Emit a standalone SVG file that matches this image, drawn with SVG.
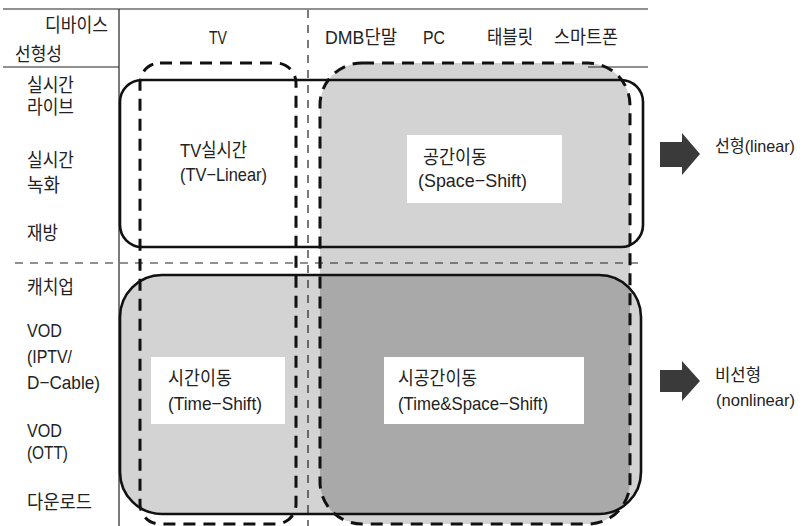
<svg xmlns="http://www.w3.org/2000/svg" width="803" height="526" viewBox="0 0 803 526">
<style>
text{font-family:"Liberation Sans","Noto Sans CJK KR",sans-serif;font-size:19px;fill:#222;}
text.side{font-size:16.5px;}
.thin{stroke:#222;stroke-width:1.2;fill:none;}
.tdash{stroke:#222;stroke-width:1.2;fill:none;stroke-dasharray:8 7;}
.solid{stroke:#111;stroke-width:2.6;fill:none;}
.dash{stroke:#111;stroke-width:3;fill:none;stroke-dasharray:12 8;}
.lbox{fill:#fff;}
.arrow{fill:#3a3a3a;}
</style>
<defs>
<clipPath id="spaceClip"><rect x="320" y="63" width="310" height="461" rx="42"/></clipPath>
</defs>
<rect width="803" height="526" fill="#fff"/>

<g id="fills">
<rect x="120" y="80" width="523" height="167" rx="22" fill="#fff"/>
<rect x="120" y="275" width="521" height="239" rx="42" fill="#d3d3d3"/>
<rect x="320" y="63" width="310" height="461" rx="42" fill="#d3d3d3"/>
<rect x="120" y="275" width="521" height="239" rx="42" fill="#a9a9a9" clip-path="url(#spaceClip)"/>
</g>

<g id="table">
<line class="thin" x1="3" y1="9" x2="648" y2="9"/>
<line class="thin" x1="3" y1="67" x2="119" y2="67"/>
<line class="thin" x1="588" y1="67" x2="648" y2="67"/>
<line class="thin" x1="119" y1="9" x2="119" y2="526"/>
<line class="tdash" x1="308" y1="10" x2="308" y2="526"/>
<line class="tdash" x1="15" y1="263" x2="641" y2="263" stroke-dasharray="9 7"/>
<text x="108" y="32" text-anchor="end" textLength="63" lengthAdjust="spacingAndGlyphs">디바이스</text>
<text x="15" y="61" textLength="47" lengthAdjust="spacingAndGlyphs">선형성</text>
<text x="209" y="44" textLength="18" lengthAdjust="spacingAndGlyphs">TV</text>
<text x="325" y="44" textLength="72" lengthAdjust="spacingAndGlyphs">DMB단말</text>
<text x="423" y="44" textLength="22" lengthAdjust="spacingAndGlyphs">PC</text>
<text x="487" y="44" textLength="46" lengthAdjust="spacingAndGlyphs">태블릿</text>
<text x="554" y="44" textLength="64" lengthAdjust="spacingAndGlyphs">스마트폰</text>
<text x="27" y="92" textLength="47" lengthAdjust="spacingAndGlyphs">실시간</text>
<text x="27" y="114" textLength="47" lengthAdjust="spacingAndGlyphs">라이브</text>
<text x="27" y="167" textLength="47" lengthAdjust="spacingAndGlyphs">실시간</text>
<text x="27" y="192" textLength="33" lengthAdjust="spacingAndGlyphs">녹화</text>
<text x="27" y="240" textLength="31" lengthAdjust="spacingAndGlyphs">재방</text>
<text x="27" y="294" textLength="47" lengthAdjust="spacingAndGlyphs">캐치업</text>
<text x="27" y="337" textLength="35" lengthAdjust="spacingAndGlyphs">VOD</text>
<text x="27" y="363" textLength="45" lengthAdjust="spacingAndGlyphs">(IPTV/</text>
<text x="27" y="389" textLength="73" lengthAdjust="spacingAndGlyphs">D−Cable)</text>
<text x="27" y="437" textLength="35" lengthAdjust="spacingAndGlyphs">VOD</text>
<text x="27" y="459" textLength="41" lengthAdjust="spacingAndGlyphs">(OTT)</text>
<text x="27" y="509" textLength="65" lengthAdjust="spacingAndGlyphs">다운로드</text>
</g>

<g id="tv-linear">
<rect class="solid" x="120" y="80" width="523" height="167" rx="22"/>
</g>

<g id="nonlinear">
<rect class="solid" x="120" y="275" width="521" height="239" rx="42"/>
</g>

<g id="time-column">
<rect class="dash" x="140" y="63" width="156" height="461" rx="20"/>
</g>

<g id="space-column">
<rect class="dash" x="320" y="63" width="310" height="461" rx="42"/>
</g>

<g id="label-tv-linear">
<text x="180" y="157" textLength="67" lengthAdjust="spacingAndGlyphs">TV실시간</text>
<text x="180" y="181" textLength="87" lengthAdjust="spacingAndGlyphs">(TV−Linear)</text>
</g>

<g id="label-space-shift">
<rect class="lbox" x="407" y="135" width="155" height="68"/>
<text x="423" y="164" textLength="64" lengthAdjust="spacingAndGlyphs">공간이동</text>
<text x="418" y="187" textLength="109" lengthAdjust="spacingAndGlyphs">(Space−Shift)</text>
</g>

<g id="label-time-shift">
<rect class="lbox" x="151" y="357" width="134" height="67"/>
<text x="168" y="385" textLength="64" lengthAdjust="spacingAndGlyphs">시간이동</text>
<text x="168" y="410" textLength="94" lengthAdjust="spacingAndGlyphs">(Time−Shift)</text>
</g>

<g id="label-time-space-shift">
<rect class="lbox" x="384" y="357" width="200" height="67"/>
<text x="398" y="385" textLength="79" lengthAdjust="spacingAndGlyphs">시공간이동</text>
<text x="398" y="410" textLength="150" lengthAdjust="spacingAndGlyphs">(Time&amp;Space−Shift)</text>
</g>

<g id="connectors">
<path class="arrow" d="M660,142 H682 V133 L700,154 L682,175 V167 H660 Z"/>
<path class="arrow" d="M660,370 H682 V361 L700,381 L682,401 V392 H660 Z"/>
</g>

<g id="linear">
<text class="side" x="715" y="152" textLength="80" lengthAdjust="spacingAndGlyphs">선형(linear)</text>
</g>

<g id="nonlinear-label">
<text class="side" x="715" y="381" textLength="46" lengthAdjust="spacingAndGlyphs">비선형</text>
<text class="side" x="716" y="406" textLength="79" lengthAdjust="spacingAndGlyphs">(nonlinear)</text>
</g>
</svg>
